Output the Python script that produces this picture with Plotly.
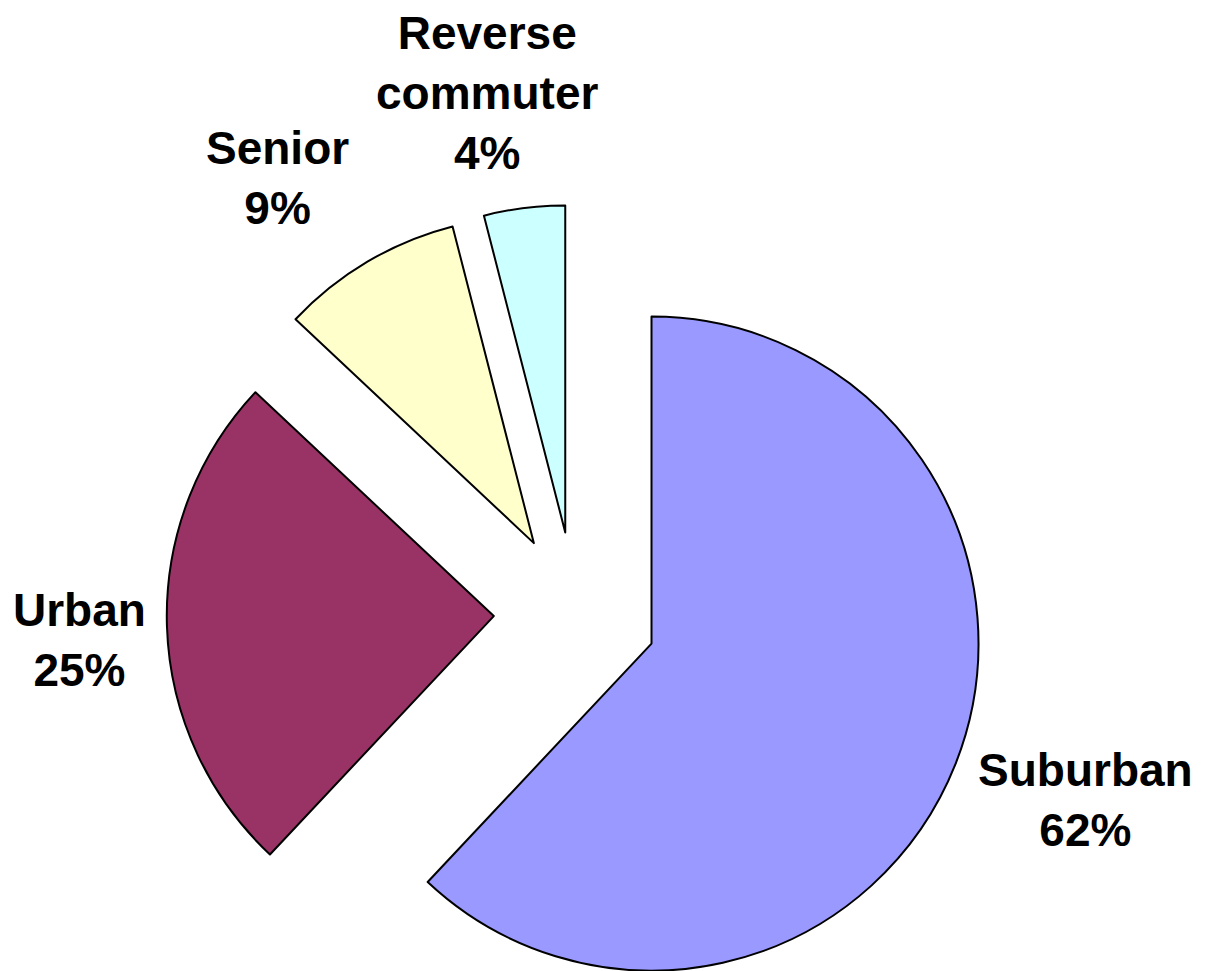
import math
import plotly.graph_objects as go

# Commuter market segments (share of riders, %)
segments = ["Suburban", "Urban", "Senior", "Reverse commuter"]
shares = [62, 25, 9, 4]
label_text = ["Suburban", "Urban", "Senior", "Reverse<br>commuter"]

colors = ["#9999FF", "#993366", "#FFFFCC", "#CCFFFF"]

W, H = 1210, 971
CX, CY = 575.5, 613.5      # common pie centre (px)
R = 327.0                  # slice radius (px)
PULL = 0.25                # explode distance as fraction of radius

# label anchor points (px, centre of text block)
label_pos = [(1085, 800), (79, 640), (277, 178), (487, 93)]

total = sum(shares)
fig = go.Figure()

start = 90.0  # first slice starts at 12 o'clock, going clockwise
for k, (name, v) in enumerate(zip(segments, shares)):
    sweep = 360.0 * v / total
    mid = math.radians(start - sweep / 2)
    start -= sweep
    # exploded slice centre
    sx = CX + PULL * R * math.cos(mid)
    sy = CY - PULL * R * math.sin(mid)
    x0, x1 = (sx - R) / W, (sx + R) / W
    y0, y1 = 1 - (sy + R) / H, 1 - (sy - R) / H
    x0, y0 = max(0.0, x0), max(0.0, y0)
    x1, y1 = min(1.0, x1), min(1.0, y1)

    fill = [colors[i] if i == k else "rgba(0,0,0,0)" for i in range(len(shares))]
    lw = [2 if i == k else 0 for i in range(len(shares))]
    fig.add_trace(go.Pie(
        labels=segments,
        values=shares,
        sort=False,
        direction="clockwise",
        rotation=0,
        marker=dict(colors=fill, line=dict(color="black", width=lw)),
        textinfo="none",
        hoverinfo="label+percent",
        showlegend=False,
        domain=dict(x=[x0, x1], y=[y0, y1]),
    ))

for k, (txt, v) in enumerate(zip(label_text, shares)):
    px, py = label_pos[k]
    fig.add_annotation(
        x=px / W, y=1 - py / H, xref="paper", yref="paper",
        text=f"<b>{txt}<br>{round(100 * v / total)}%</b>",
        showarrow=False, xanchor="center", yanchor="middle", align="center",
        font=dict(family="Liberation Sans, Arial, sans-serif", size=46, color="black"),
    )

fig.update_layout(
    width=W, height=H,
    margin=dict(l=0, r=0, t=0, b=0),
    paper_bgcolor="white", plot_bgcolor="white",
    showlegend=False,
)

fig.write_html("out.html")
